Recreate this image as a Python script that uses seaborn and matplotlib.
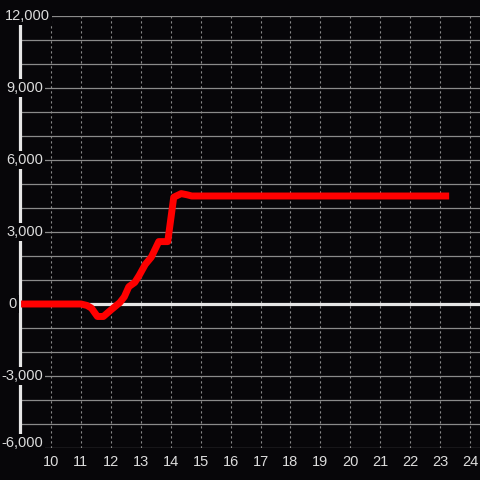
import matplotlib
matplotlib.use("Agg")
import matplotlib.pyplot as plt
import seaborn as sns
import pandas as pd
import numpy as np
from matplotlib.transforms import offset_copy

# Data
x_vals = [9.0, 11.0, 11.2, 11.35, 11.55, 11.75, 12.0, 12.3, 12.45, 12.6, 12.8, 12.95,
          13.15, 13.35, 13.6, 13.9, 14.1, 14.35, 14.55, 14.7, 23.3]
y_vals = [0, 0, -60, -170, -520, -520, -250, 60, 300, 720, 900, 1200,
          1650, 1950, 2600, 2600, 4450, 4600, 4550, 4500, 4500]
x_ticks = list(range(10, 25))
y_ticks = [-6000, -3000, 0, 3000, 6000, 9000, 12000]
y_tick_labels = ["-6,000", "-3,000", "0", "3,000", "6,000", "9,000", "12,000"]

BG = "#070609"
TXT = "#dcdcdc"
GRID = "#8a8a8a"

sns.set_theme(style="dark")
plt.rcParams["font.family"] = ["Liberation Sans", "DejaVu Sans"]

fig = plt.figure(figsize=(4.8, 4.8), dpi=100, facecolor=BG)
W = H = 480.0
left_px, right_px, top_px, bot_px = 20, 480, 16, 448
ax = fig.add_axes([left_px / W, 1 - bot_px / H, (right_px - left_px) / W, (bot_px - top_px) / H])
ax.set_facecolor(BG)

df = pd.DataFrame({"x": x_vals, "y": y_vals})
sns.lineplot(data=df, x="x", y="y", ax=ax, color="#ff0000", linewidth=5,
             solid_joinstyle="round", solid_capstyle="butt", zorder=3)

ax.set_xlim(8.965, 24.33)
ax.set_ylim(-6000, 12000)

ax.set_xticks(x_ticks)
ax.set_xticklabels([str(t) for t in x_ticks])
ax.set_yticks(y_ticks)
ax.set_yticks(np.arange(-6000, 12001, 1000), minor=True)
ax.set_yticklabels([])
ax.tick_params(axis="x", length=0, pad=5, colors=TXT, labelsize=10.5)
ax.tick_params(axis="y", which="both", length=0)

ax.grid(False)
ax.grid(axis="x", which="major", color=GRID, linestyle=(0, (2, 2.5)), linewidth=0.8)
ax.grid(axis="y", which="minor", color=GRID, linestyle="-", linewidth=0.9)
ax.grid(axis="y", which="major", color=GRID, linestyle="-", linewidth=0.9)
ax.set_axisbelow(True)

ax.axhline(0, color="#e6e6e6", linewidth=2.3, zorder=2)

for s in ["top", "right", "bottom"]:
    ax.spines[s].set_visible(False)
ax.spines["left"].set_color("#e6e6e6")
ax.spines["left"].set_linewidth(2.3)

ax.set_xlabel("")
ax.set_ylabel("")

# y labels drawn over the left spine
right_edge_px = {"12,000": 50, "0": 17}
dy_px = {"-6,000": 5}
base_tr = ax.get_yaxis_transform()
for v, lab in zip(y_ticks, y_tick_labels):
    px = right_edge_px.get(lab, 43)
    xf = (px - left_px) / (right_px - left_px)
    tr = offset_copy(base_tr, fig=fig, x=0, y=dy_px.get(lab, 0), units="dots")
    ax.text(xf, v, lab, transform=tr, ha="right", va="center",
            color=TXT, fontsize=10.5, zorder=5, clip_on=False,
            bbox=dict(boxstyle="square,pad=0.15", facecolor=BG, edgecolor="none"))

fig.savefig("out.png", dpi=100, facecolor=BG)
